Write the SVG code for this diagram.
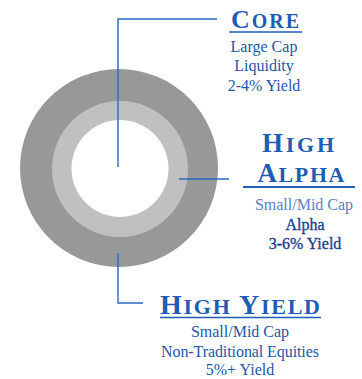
<svg xmlns="http://www.w3.org/2000/svg" width="362" height="379" viewBox="0 0 362 379">
<style>
.title{font-family:"Liberation Serif",serif;font-weight:bold;fill:#1f5cb5;text-anchor:middle}
.body{font-family:"Liberation Serif",serif;font-size:16px;fill:#2456a8;text-anchor:middle}
.light{fill:#5583c6}
.dark{fill:#1d3f8f;stroke:#1d3f8f;stroke-width:0.35}
.conn{stroke:#2a69c0;stroke-width:1.4;fill:none}
</style>
<rect width="362" height="379" fill="#ffffff"/>
<g id="rings">
<circle cx="119" cy="168" r="99" fill="#989898"/>
<circle cx="120" cy="169" r="68" fill="#c0c0c0"/>
<circle cx="120" cy="168.5" r="48.5" fill="#ffffff"/>
</g>
<g id="connectors">
<polyline class="conn" points="217,19 118,19 118,167"/>
<line class="conn" x1="179" y1="179" x2="229" y2="179"/>
<polyline class="conn" points="118,253 118,303 143,303"/>
<line x1="229" y1="32" x2="302" y2="32" stroke="#1f5cb5" stroke-width="1.6"/>
<line x1="243" y1="187" x2="355" y2="187" stroke="#1f5cb5" stroke-width="2"/>
<line x1="160" y1="317.5" x2="321" y2="317.5" stroke="#1f5cb5" stroke-width="1.6"/>
</g>
<g id="core">
<text class="title" x="265" y="28" textLength="68"><tspan font-size="26">C</tspan><tspan font-size="20">ORE</tspan></text>
<text class="body" x="264" y="52">Large Cap</text>
<text class="body" x="264" y="71">Liquidity</text>
<text class="body" x="264" y="91">2-4% Yield</text>
</g>
<g id="high-alpha">
<text class="title" x="298" y="152" textLength="72"><tspan font-size="27">H</tspan><tspan font-size="22">IGH</tspan></text>
<text class="title" x="301" y="182" textLength="87"><tspan font-size="27">A</tspan><tspan font-size="22">LPHA</tspan></text>
<text class="body light" x="304" y="210">Small/Mid Cap</text>
<text class="body dark" x="305" y="230">Alpha</text>
<text class="body dark" x="305" y="249">3-6% Yield</text>
</g>
<g id="high-yield">
<text class="title" x="240" y="314" textLength="160"><tspan font-size="28">H</tspan><tspan font-size="22">IGH </tspan><tspan font-size="28">Y</tspan><tspan font-size="22">IELD</tspan></text>
<text class="body" x="240" y="337">Small/Mid Cap</text>
<text class="body" x="240" y="357" textLength="158">Non-Traditional Equities</text>
<text class="body" x="240" y="375">5%+ Yield</text>
</g>
</svg>
